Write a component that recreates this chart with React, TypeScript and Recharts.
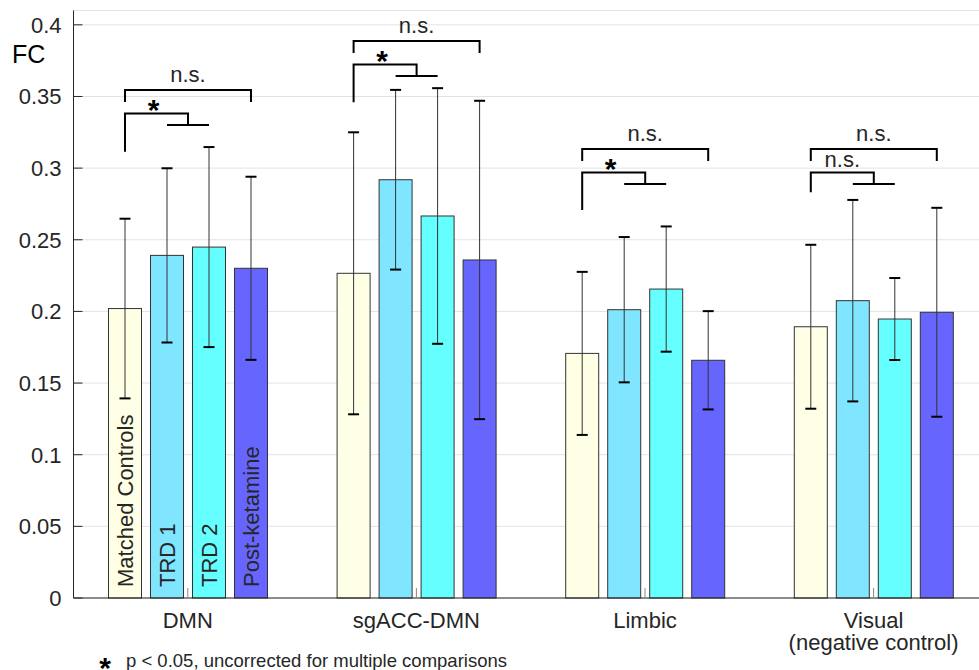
import { BarChart, Bar, XAxis, YAxis, CartesianGrid } from 'recharts'

const categories = ['DMN', 'sgACC-DMN', 'Limbic', 'Visual\n(negative control)']
const seriesNames = ['Matched Controls', 'TRD 1', 'TRD 2', 'Post-ketamine']
const seriesColors = ['#ffffe5', '#80e5ff', '#66ffff', '#6666ff']

const controls = [0.202, 0.2266, 0.1707, 0.1893]
const trd1 = [0.2391, 0.2919, 0.2012, 0.2075]
const trd2 = [0.2449, 0.2666, 0.2156, 0.1947]
const postKetamine = [0.2301, 0.2359, 0.1659, 0.1994]

const controlsErr = [0.0627, 0.0984, 0.0569, 0.0572]
const trd1Err = [0.0608, 0.0627, 0.0507, 0.0703]
const trd2Err = [0.0698, 0.0892, 0.0437, 0.0286]
const postKetamineErr = [0.0639, 0.1111, 0.0343, 0.0729]

const yTicks = [0, 0.05, 0.1, 0.15, 0.2, 0.25, 0.3, 0.35, 0.4]

// significance brackets, one pair per group
const bracketTop = [0.3545, 0.3887, 0.3133, 0.3133]
const innerLegEnd = [0.3115, 0.3459, 0.2708, 0.2831]
const outerLabel = ['n.s.', 'n.s.', 'n.s.', 'n.s.']
const innerLabel = ['*', '*', '*', 'n.s.']

const values = [controls, trd1, trd2, postKetamine]
const errors = [controlsErr, trd1Err, trd2Err, postKetamineErr]

const data = categories.map((name, i) => {
  const row: Record<string, any> = { name, idx: i }
  values.forEach((v, s) => {
    row[`s${s}`] = v[i]
    row[`e${s}`] = errors[s][i]
  })
  return row
})

const FONT = '"Liberation Sans", Arial, Helvetica, sans-serif'
const INK = '#262626'
const BAR_SIZE = 33
const BAR_GAP = 9

function Brackets({ cLast, width, base, k, g }: any) {
  const c = [0, 1, 2, 3].map((i) => cLast - (3 - i) * (width + BAR_GAP))
  const topY = base - bracketTop[g] * k
  const lowY = topY + 23.5
  const crossY = lowY + 11.5
  const mid12 = (c[1] + c[2]) / 2
  const legY = base - innerLegEnd[g] * k
  const inner = innerLabel[g]
  return (
    <g fontFamily={FONT}>
      <path
        d={`M${c[0]},${topY + 12}V${topY}H${c[3]}V${topY + 12}`}
        fill="none"
        stroke="#000"
        strokeWidth={2}
      />
      <path
        d={`M${c[0]},${legY}V${lowY}H${mid12}V${crossY}M${c[1]},${crossY}H${c[2]}`}
        fill="none"
        stroke="#000"
        strokeWidth={2}
      />
      <text x={(c[0] + c[3]) / 2} y={topY - 8} textAnchor="middle" fontSize={22} fill={INK}>
        {outerLabel[g]}
      </text>
      {inner === '*' ? (
        <text x={(c[0] + mid12) / 2 - 3} y={lowY + 6} textAnchor="middle" fontSize={30} fontWeight="bold" fill="#000">
          *
        </text>
      ) : (
        <text x={(c[0] + mid12) / 2} y={lowY - 6} textAnchor="middle" fontSize={22} fill={INK}>
          {inner}
        </text>
      )}
    </g>
  )
}

function makeShape(s: number) {
  return (props: any) => {
    const { x, y, width, height, payload } = props
    const v = payload[`s${s}`]
    const e = payload[`e${s}`]
    const base = y + height
    const k = height / v
    const cx = x + width / 2
    const yHi = base - (v + e) * k
    const yLo = base - (v - e) * k
    return (
      <g>
        <rect x={x} y={y} width={width} height={height} fill={seriesColors[s]} stroke="#333" strokeWidth={1} />
        {payload.idx === 0 && (
          <text
            transform={`translate(${cx + 8},${base - 11}) rotate(-90)`}
            fontSize={22}
            fontFamily={FONT}
            fill={INK}
          >
            {seriesNames[s]}
          </text>
        )}
        <line x1={cx} x2={cx} y1={yHi} y2={yLo} stroke="#333" strokeWidth={1} />
        <line x1={cx - 5.5} x2={cx + 5.5} y1={yHi} y2={yHi} stroke="#000" strokeWidth={2} />
        <line x1={cx - 5.5} x2={cx + 5.5} y1={yLo} y2={yLo} stroke="#000" strokeWidth={2} />
        {s === 3 && <Brackets cLast={cx} width={width} base={base} k={k} g={payload.idx} />}
      </g>
    )
  }
}

const YTick = ({ x, y, payload }: any) => (
  <g>
    <line x1={x} x2={x + 9} y1={y} y2={y} stroke={INK} strokeWidth={1} />
    <text x={x - 12} y={y} dy={8} textAnchor="end" fontSize={22} fontFamily={FONT} fill={INK}>
      {String(payload.value)}
    </text>
  </g>
)

const XTick = ({ x, y, payload }: any) => {
  const lines = String(payload.value).split('\n')
  return (
    <g>
      <line x1={x} x2={x} y1={y} y2={y - 10} stroke="#888" strokeWidth={1} />
      <text textAnchor="middle" fontSize={22} fontFamily={FONT} fill={INK}>
        {lines.map((l, i) => (
          <tspan key={i} x={x} y={y + 30 + i * 22}>
            {l}
          </tspan>
        ))}
      </text>
    </g>
  )
}

export default function App() {
  return (
    <div
      style={{
        position: 'absolute',
        left: 0,
        top: 0,
        width: 979,
        height: 670,
        overflow: 'hidden',
        background: '#fff',
      }}
    >
      <BarChart
        width={1000}
        height={670}
        data={data}
        margin={{ top: 10.5, right: 12.1, bottom: 0, left: 0 }}
        barGap={BAR_GAP}
      >
        <CartesianGrid vertical={false} stroke="#e3e3e3" />
        <XAxis
          dataKey="name"
          height={72}
          interval={0}
          tickLine={false}
          tickSize={0}
          tickMargin={0}
          axisLine={{ stroke: INK }}
          tick={<XTick />}
        />
        <YAxis
          type="number"
          domain={[0, 0.41]}
          ticks={yTicks}
          width={73.5}
          tickLine={false}
          tickSize={0}
          tickMargin={0}
          axisLine={{ stroke: INK }}
          tick={<YTick />}
        />
        {seriesNames.map((n, s) => (
          <Bar key={n} dataKey={`s${s}`} name={n} barSize={BAR_SIZE} shape={makeShape(s)} isAnimationActive={false} />
        ))}
      </BarChart>
      <svg
        width={979}
        height={670}
        style={{ position: 'absolute', left: 0, top: 0, pointerEvents: 'none' }}
        fontFamily={FONT}
      >
        <text x={12} y={63} fontSize={25} fill="#000">
          FC
        </text>
        <text x={105} y={678} textAnchor="middle" fontSize={30} fontWeight="bold" fill="#000">
          *
        </text>
        <text x={126} y={667} fontSize={18.5} fill={INK}>
          p &lt; 0.05, uncorrected for multiple comparisons
        </text>
      </svg>
    </div>
  )
}
